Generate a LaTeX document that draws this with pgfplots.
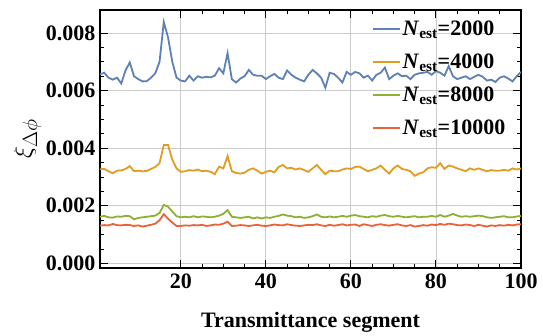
\documentclass[border=0pt]{standalone}
\usepackage{fontspec}
\setmainfont{Liberation Serif}
\usepackage{pgfplots}
\usepackage{pgfplotstable}
\pgfplotsset{compat=1.18}
\definecolor{mblue}{rgb}{0.368417,0.506779,0.709798}
\definecolor{morange}{rgb}{0.880722,0.611041,0.142051}
\definecolor{mgreen}{rgb}{0.560181,0.691569,0.194885}
\definecolor{mred}{rgb}{0.922526,0.385626,0.209179}

\pgfplotstableread{
x a b c d
1 0.00657 0.00327 0.00162 0.00131
2 0.00662 0.00328 0.00165 0.00133
3 0.00645 0.00320 0.00160 0.00132
4 0.00638 0.00313 0.00159 0.00137
5 0.00645 0.00322 0.00163 0.00133
6 0.00625 0.00323 0.00162 0.00132
7 0.00670 0.00328 0.00165 0.00134
8 0.00698 0.00338 0.00164 0.00133
9 0.00650 0.00320 0.00153 0.00130
10 0.00640 0.00322 0.00158 0.00132
11 0.00632 0.00320 0.00160 0.00128
12 0.00633 0.00321 0.00162 0.00131
13 0.00645 0.00328 0.00164 0.00134
14 0.00660 0.00335 0.00166 0.00138
15 0.00700 0.00348 0.00175 0.00150
16 0.00838 0.00411 0.00203 0.00171
17 0.00785 0.00411 0.00197 0.00155
18 0.00700 0.00360 0.00180 0.00142
19 0.00645 0.00330 0.00164 0.00130
20 0.00635 0.00318 0.00160 0.00130
21 0.00632 0.00320 0.00162 0.00132
22 0.00652 0.00324 0.00160 0.00131
23 0.00635 0.00322 0.00164 0.00133
24 0.00650 0.00326 0.00160 0.00132
25 0.00645 0.00320 0.00163 0.00134
26 0.00648 0.00322 0.00162 0.00130
27 0.00646 0.00318 0.00160 0.00132
28 0.00652 0.00310 0.00162 0.00135
29 0.00678 0.00336 0.00166 0.00134
30 0.00660 0.00330 0.00172 0.00138
31 0.00730 0.00373 0.00185 0.00145
32 0.00640 0.00320 0.00162 0.00130
33 0.00628 0.00314 0.00160 0.00131
34 0.00642 0.00312 0.00158 0.00133
35 0.00650 0.00315 0.00160 0.00132
36 0.00672 0.00325 0.00162 0.00130
37 0.00655 0.00330 0.00156 0.00132
38 0.00652 0.00322 0.00160 0.00134
39 0.00652 0.00312 0.00156 0.00131
40 0.00640 0.00318 0.00160 0.00130
41 0.00650 0.00322 0.00158 0.00132
42 0.00658 0.00316 0.00162 0.00135
43 0.00645 0.00335 0.00165 0.00133
44 0.00640 0.00342 0.00170 0.00132
45 0.00670 0.00330 0.00166 0.00136
46 0.00655 0.00332 0.00164 0.00133
47 0.00645 0.00326 0.00160 0.00131
48 0.00638 0.00330 0.00162 0.00130
49 0.00632 0.00324 0.00158 0.00132
50 0.00655 0.00318 0.00160 0.00134
51 0.00672 0.00330 0.00164 0.00133
52 0.00660 0.00342 0.00170 0.00136
53 0.00645 0.00325 0.00162 0.00132
54 0.00610 0.00310 0.00160 0.00130
55 0.00662 0.00322 0.00163 0.00134
56 0.00658 0.00320 0.00160 0.00131
57 0.00645 0.00320 0.00162 0.00133
58 0.00628 0.00326 0.00165 0.00136
59 0.00665 0.00330 0.00162 0.00132
60 0.00655 0.00328 0.00166 0.00134
61 0.00665 0.00335 0.00168 0.00135
62 0.00660 0.00336 0.00164 0.00130
63 0.00645 0.00328 0.00162 0.00136
64 0.00652 0.00320 0.00160 0.00133
65 0.00635 0.00325 0.00164 0.00130
66 0.00655 0.00330 0.00162 0.00134
67 0.00662 0.00340 0.00166 0.00136
68 0.00680 0.00325 0.00168 0.00133
69 0.00640 0.00312 0.00164 0.00131
70 0.00652 0.00330 0.00162 0.00134
71 0.00660 0.00340 0.00165 0.00136
72 0.00650 0.00328 0.00162 0.00132
73 0.00652 0.00325 0.00160 0.00130
74 0.00640 0.00320 0.00162 0.00133
75 0.00655 0.00304 0.00164 0.00128
76 0.00660 0.00312 0.00160 0.00130
77 0.00662 0.00316 0.00162 0.00133
78 0.00665 0.00330 0.00162 0.00131
79 0.00655 0.00334 0.00165 0.00135
80 0.00668 0.00332 0.00162 0.00133
81 0.00662 0.00348 0.00168 0.00137
82 0.00652 0.00328 0.00162 0.00134
83 0.00685 0.00340 0.00166 0.00138
84 0.00650 0.00336 0.00172 0.00136
85 0.00640 0.00330 0.00166 0.00133
86 0.00645 0.00325 0.00162 0.00132
87 0.00650 0.00320 0.00164 0.00135
88 0.00640 0.00330 0.00162 0.00133
89 0.00648 0.00325 0.00164 0.00130
90 0.00655 0.00330 0.00166 0.00134
91 0.00648 0.00325 0.00164 0.00131
92 0.00635 0.00320 0.00160 0.00128
93 0.00638 0.00324 0.00158 0.00132
94 0.00630 0.00322 0.00160 0.00130
95 0.00645 0.00322 0.00162 0.00133
96 0.00650 0.00325 0.00164 0.00131
97 0.00642 0.00322 0.00160 0.00134
98 0.00632 0.00330 0.00160 0.00132
99 0.00650 0.00326 0.00163 0.00135
100 0.00665 0.00330 0.00165 0.00136
}\datatable

\begin{document}
\begin{tikzpicture}
\begin{axis}[
  name=main,
  scale only axis, width=421pt, height=258pt,
  xmin=1, xmax=100, ymin=-0.00016, ymax=0.0088,
  xtick={20,40,60,80,100}, ytick={0,0.002,0.004,0.006,0.008},
  minor x tick num=3, minor y tick num=3,
  tick align=inside, major tick length=8pt, minor tick length=4pt,
  tick style={black, line width=1pt},
  grid=major, major grid style={gray!40, line width=0.8pt},
  axis line style={line width=1.2pt},
  scaled y ticks=false,
  yticklabel style={/pgf/number format/fixed, /pgf/number format/fixed zerofill, /pgf/number format/precision=3, xshift=-1pt},
  /pgf/number format/assume math mode=true,
  ticklabel style={font=\bfseries\fontsize{22}{26}\selectfont},
  xticklabel style={yshift=-2pt},
  xlabel={Transmittance segment}, ylabel={$\xi_{\Delta\phi}$},
  label style={font=\bfseries\fontsize{22}{26}\selectfont},
  xlabel style={yshift=-17pt},
  ylabel style={font=\fontsize{28}{32}\selectfont, yshift=-2pt},
  legend style={draw=none, fill=none, at={(0.975,0.975)}, anchor=north east,
    font=\bfseries\fontsize{22}{26}\selectfont, row sep=13pt},
  legend cell align=left,
  legend image code/.code={\draw[#1, line width=2pt] (0cm,0cm) -- (0.95cm,0cm);},
  every axis plot/.append style={line width=1.8pt},
]
\addplot[mblue] table[x=x,y=a]{\datatable};
\addlegendentry{\textit{N}\textsubscript{est}=2000}
\addplot[morange] table[x=x,y=b]{\datatable};
\addlegendentry{\textit{N}\textsubscript{est}=4000}
\addplot[mgreen] table[x=x,y=c]{\datatable};
\addlegendentry{\textit{N}\textsubscript{est}=8000}
\addplot[mred] table[x=x,y=d]{\datatable};
\addlegendentry{\textit{N}\textsubscript{est}=10000}
\end{axis}
\useasboundingbox ([xshift=-100pt,yshift=-63pt]main.south west) rectangle ([xshift=22pt,yshift=10pt]main.north east);
\end{tikzpicture}
\end{document}
